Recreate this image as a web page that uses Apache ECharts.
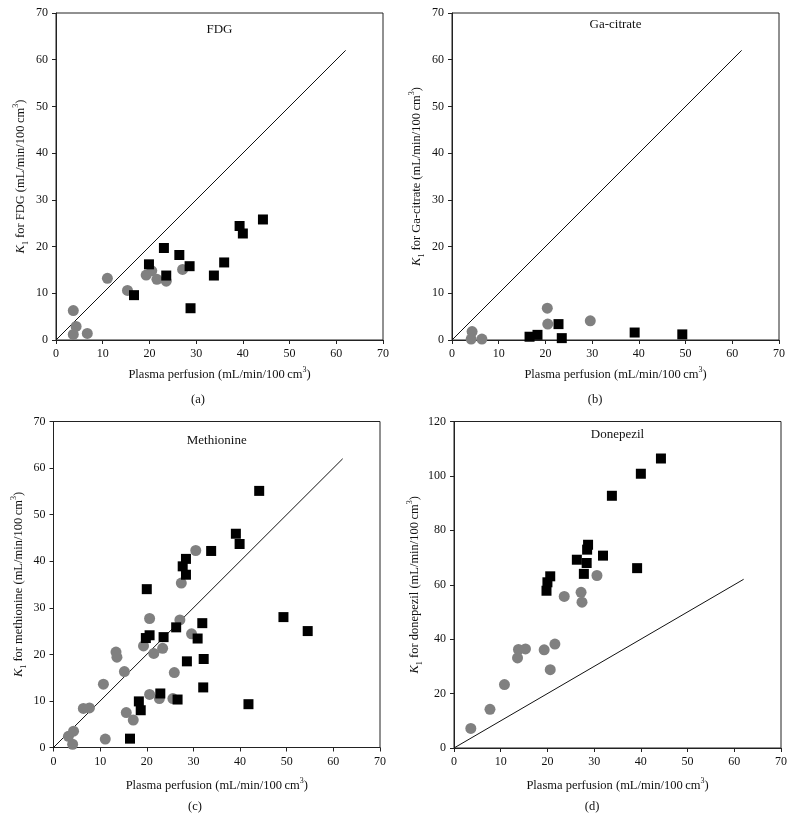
<!DOCTYPE html>
<html><head><meta charset="utf-8">
<script src="https://cdn.jsdelivr.net/npm/echarts@6/dist/echarts.min.js"></script>
<style>html,body{margin:0;padding:0;background:#fff}#c{width:795px;height:833px}</style>
</head><body><div id="c"></div>
<script>
// ---- data ----
const identityLine = [[0, 0], [62, 62]];

const fdgCircles = [[3.7,6.3],[4.3,2.9],[3.7,1.2],[6.7,1.4],[11.0,13.2],[15.3,10.6],[19.3,13.9],[20.5,14.8],[21.6,13.0],[23.6,12.6],[27.1,15.1]];
const fdgSquares = [[16.7,9.6],[19.9,16.2],[23.1,19.7],[23.6,13.8],[26.4,18.2],[28.6,15.8],[28.8,6.8],[33.8,13.8],[36.0,16.6],[39.3,24.4],[40.0,22.8],[44.3,25.8]];

const gaCircles = [[4.3,1.8],[4.1,0.2],[6.4,0.2],[20.4,6.8],[20.5,3.4],[29.6,4.1]];
const gaSquares = [[16.6,0.7],[18.3,1.1],[22.8,3.4],[23.5,0.4],[39.1,1.6],[49.3,1.2]];

const metCircles = [[3.2,2.4],[4.3,3.5],[4.1,0.7],[6.4,8.4],[7.7,8.5],[10.7,13.6],[11.1,1.8],[13.4,20.5],[13.6,19.4],[15.2,16.3],[15.6,7.5],[17.1,5.9],[19.3,21.8],[20.6,27.7],[20.6,11.4],[21.5,20.2],[23.4,21.3],[22.7,10.5],[25.6,10.5],[25.9,16.1],[27.1,27.4],[27.4,35.3],[29.6,24.4],[30.5,42.3]];
const metSquares = [[16.4,1.9],[18.3,9.9],[18.7,8.0],[20.0,34.0],[19.8,23.5],[20.6,24.1],[22.9,11.6],[23.6,23.7],[26.3,25.8],[26.6,10.3],[27.7,38.9],[28.4,40.5],[28.4,37.1],[28.6,18.5],[30.9,23.4],[31.9,26.7],[32.2,19.0],[32.1,12.9],[33.8,42.2],[39.1,45.9],[39.9,43.7],[41.8,9.3],[44.1,55.1],[49.3,28.0],[54.5,25.0]];

const donCircles = [[3.6,7.2],[7.7,14.2],[10.8,23.3],[13.6,33.1],[13.8,36.2],[15.3,36.4],[19.3,36.1],[20.6,28.8],[21.6,38.2],[23.6,55.7],[27.2,57.2],[27.4,53.6],[30.6,63.4]];
const donSquares = [[19.8,57.8],[20.0,60.9],[20.6,63.1],[26.3,69.2],[27.8,64.0],[28.4,68.0],[28.5,72.9],[28.7,74.7],[31.9,70.7],[33.8,92.7],[39.2,66.1],[40.0,100.8],[44.3,106.4]];

const panelTitles = ['FDG', 'Ga-citrate', 'Methionine', 'Donepezil'];
const panelLetters = ['(a)', '(b)', '(c)', '(d)'];
const yNames = ['FDG', 'Ga-citrate', 'methionine', 'donepezil'];
const xMax = [70, 70, 70, 70];
const yMax = [70, 70, 70, 120];
const xInterval = [10, 10, 10, 10];
const yInterval = [10, 10, 10, 20];

// ---- layout ----
const FONT = '"Liberation Serif", "DejaVu Serif", serif';
const grids = [
  {left: 56, top: 13, width: 327, height: 327},
  {left: 452, top: 13, width: 327, height: 327},
  {left: 53.5, top: 421.5, width: 326.5, height: 326},
  {left: 454, top: 421.5, width: 327, height: 326.5}
];
const titleTop = [23, 18, 434, 428];
const letterX = [198, 595, 195, 592];
const letterTop = [393, 393, 800, 800];
const xNameGap = [26, 26, 29, 29];
const richStyles = {
  i: {fontFamily: FONT, fontSize: 12.5, fontStyle: 'italic', color: '#111', lineHeight: 18},
  n: {fontFamily: FONT, fontSize: 12.5, color: '#111', lineHeight: 18},
  s: {fontFamily: FONT, fontSize: 8, color: '#111', lineHeight: 8, verticalAlign: 'bottom'},
  p: {fontFamily: FONT, fontSize: 8, color: '#111', lineHeight: 8, verticalAlign: 'top'}
};
const circleData = [fdgCircles, gaCircles, metCircles, donCircles];
const squareData = [fdgSquares, gaSquares, metSquares, donSquares];

const option = {
  animation: false,
  backgroundColor: '#fff',
  grid: grids.map(g => Object.assign({show: true, borderColor: '#222', borderWidth: 1, backgroundColor: 'transparent'}, g)),
  title: [],
  xAxis: [], yAxis: [], series: []
};

grids.forEach((g, k) => {
  option.title.push({
    text: panelTitles[k], left: g.left + g.width / 2, top: titleTop[k],
    textAlign: 'center', padding: 0,
    textStyle: {fontFamily: FONT, fontSize: 13, fontWeight: 'normal', color: '#111'}
  });
  option.title.push({
    text: panelLetters[k], left: letterX[k], top: letterTop[k],
    textAlign: 'center', padding: 0,
    textStyle: {fontFamily: FONT, fontSize: 12.5, fontWeight: 'normal', color: '#111'}
  });
  option.xAxis.push({
    type: 'value', gridIndex: k, min: 0, max: xMax[k], interval: xInterval[k],
    name: '{n|Plasma perfusion (mL/min/100\u2009cm}{p|3}{n|)}',
    nameLocation: 'middle', nameGap: xNameGap[k],
    nameTextStyle: {rich: richStyles},
    splitLine: {show: false},
    axisLine: {show: true, lineStyle: {color: '#222', width: 1}},
    axisTick: {show: true, inside: false, length: 4, lineStyle: {color: '#222'}},
    axisLabel: {fontFamily: FONT, fontSize: 12, color: '#111', margin: 8}
  });
  option.yAxis.push({
    type: 'value', gridIndex: k, min: 0, max: yMax[k], interval: yInterval[k],
    name: '{i|K}{s|1}{n| for ' + yNames[k] + ' (mL/min/100\u2009cm}{p|3}{n|)}',
    nameLocation: 'middle', nameGap: 26, nameRotate: 90,
    nameTextStyle: {rich: richStyles},
    splitLine: {show: false},
    axisLine: {show: true, lineStyle: {color: '#222', width: 1}},
    axisTick: {show: true, inside: false, length: 4, lineStyle: {color: '#222'}},
    axisLabel: {fontFamily: FONT, fontSize: 12, color: '#111', margin: 8}
  });
  option.series.push({
    type: 'line', xAxisIndex: k, yAxisIndex: k, data: identityLine,
    showSymbol: false, symbol: 'none', lineStyle: {color: '#111', width: 1}, z: 1, silent: true
  });
  option.series.push({
    type: 'scatter', xAxisIndex: k, yAxisIndex: k, data: circleData[k],
    symbol: 'circle', symbolSize: 11, itemStyle: {color: '#808080', opacity: 1}, z: 2
  });
  option.series.push({
    type: 'scatter', xAxisIndex: k, yAxisIndex: k, data: squareData[k],
    symbol: 'rect', symbolSize: 10, itemStyle: {color: '#000', opacity: 1}, z: 3
  });
});

const chart = echarts.init(document.getElementById('c'), null, {renderer: 'canvas'});
chart.setOption(option);
</script>
</body></html>
